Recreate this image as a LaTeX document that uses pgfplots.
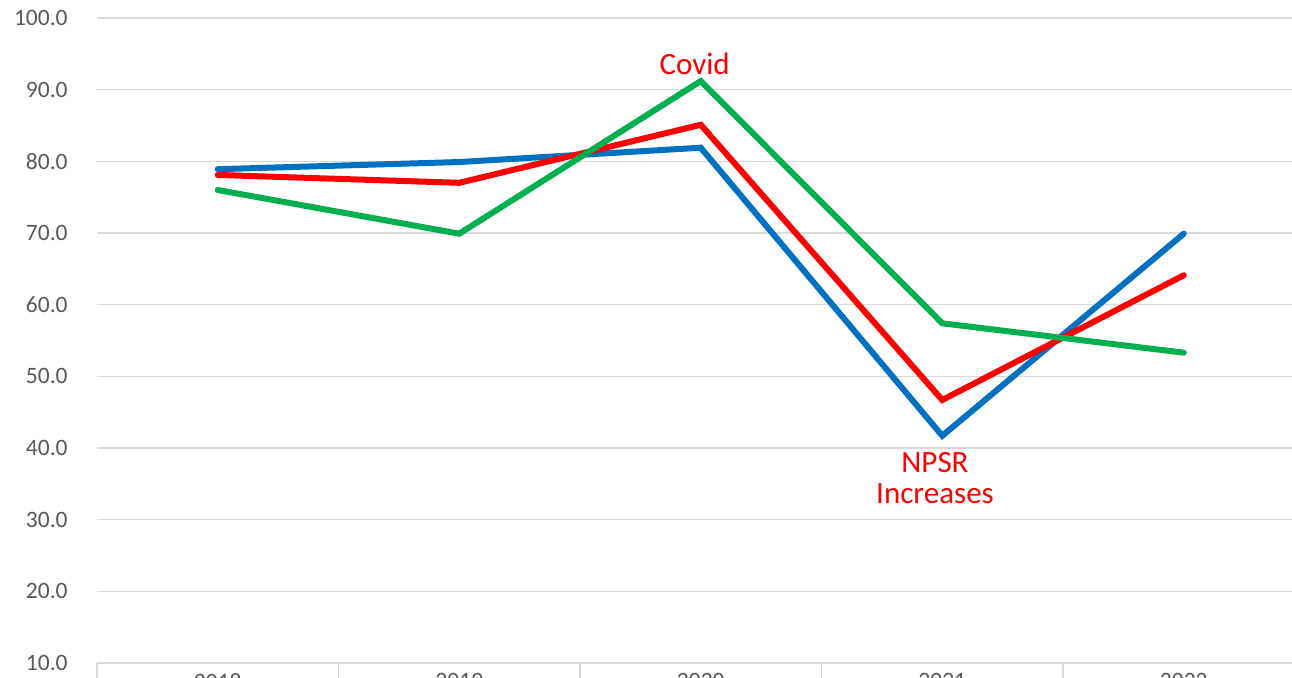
\documentclass[border=0pt]{standalone}
\usepackage{pgfplots}
\pgfplotsset{compat=1.18}
\usepackage{fontspec}
\setmainfont{Carlito}
\definecolor{cblue}{HTML}{0070C0}
\definecolor{cred}{HTML}{FF0000}
\definecolor{cgreen}{HTML}{00B050}
\definecolor{gridc}{HTML}{D9D9D9}
\definecolor{tickc}{HTML}{595959}
\begin{document}
\begin{tikzpicture}
\begin{axis}[
  scale only axis,
  width=603.75pt, height=322.5pt,
  xmin=-0.5, xmax=4.5, ymin=10, ymax=100,
  axis line style={draw=none},
  ytick={10,20,...,100},
  ymajorgrids,
  major grid style={gridc, line width=0.75pt},
  ytick style={draw=none},
  xtick={0,1,2,3,4},
  xticklabels={2018,2019,2020,2021,2022},
  minor xtick={-0.5,0.5,1.5,2.5,3.5,4.5},
  xtick pos=bottom,
  xtick align=outside,
  major tick length=0pt,
  minor tick length=12pt,
  minor x tick style={gridc, line width=0.75pt},
  major x tick style={draw=none},
  /pgf/number format/assume math mode=true,
  yticklabel={\pgfmathprintnumber[fixed, fixed zerofill, precision=1]{\tick}},
  yticklabel style={inner sep=0pt, anchor=east, xshift=-14.5pt, font=\fontsize{11.75}{14}\selectfont, text=tickc},
  xticklabel style={inner sep=0pt, anchor=north, yshift=-5pt, font=\fontsize{11.75}{14}\selectfont, text=tickc},
  every axis plot/.append style={line width=3pt, line cap=round, line join=miter},
]
\addplot[cblue] coordinates {(0,78.9) (1,79.9) (2,81.9) (3,41.7) (4,69.9)};
\addplot[cred] coordinates {(0,78.1) (1,77.0) (2,85.1) (3,46.7) (4,64.1)};
\addplot[cgreen] coordinates {(0,76.0) (1,69.9) (2,91.2) (3,57.4) (4,53.3)};
\node[anchor=base, inner sep=0pt, text=cred, font=\fontsize{15.5}{15.5}\selectfont] at (axis cs:1.975,92.05) {Covid};
\node[anchor=north, inner sep=0pt, align=center, text=cred, font=\fontsize{15.5}{15.5}\selectfont] at (axis cs:2.97,39.5) {NPSR\\Increases};
\end{axis}
\pgfresetboundingbox
\path[use as bounding box] ([shift={(-48.5pt,-7.5pt)}]current axis.south west) rectangle ([shift={(-6.25pt,9pt)}]current axis.north east);
\end{tikzpicture}
\end{document}
